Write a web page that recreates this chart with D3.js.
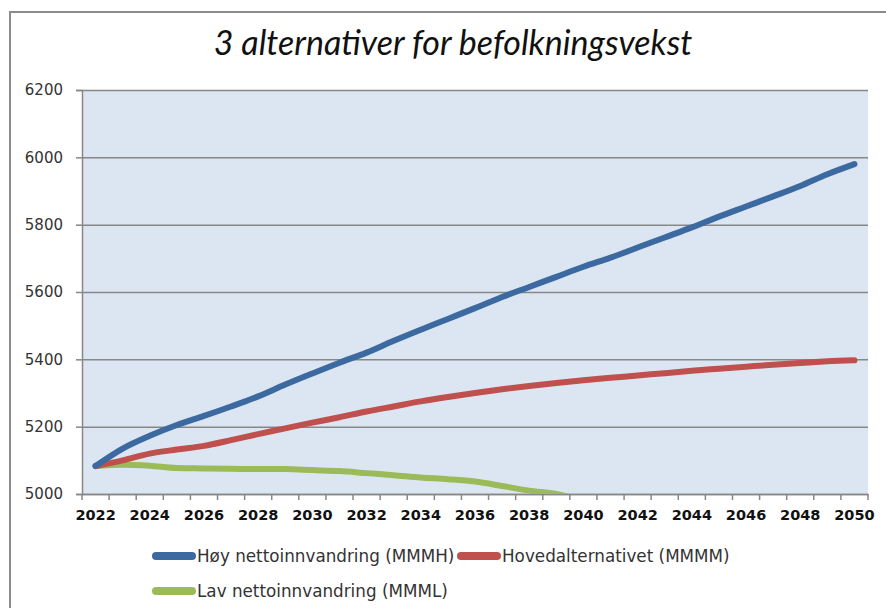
<!DOCTYPE html>
<meta charset="utf-8">
<html>
<head>
<script src="https://d3js.org/d3.v7.min.js"></script>
<style>
  body { margin: 0; background: #fff; }
  .ylab text { font-family: "DejaVu Sans", sans-serif; font-size: 15px; fill: #333; }
  .xlab text { font-family: "DejaVu Sans", sans-serif; font-size: 14.5px; font-weight: bold; fill: #111; }
  .legend text { font-family: "DejaVu Sans", sans-serif; font-size: 16.8px; fill: #333; }
</style>
</head>
<body>
<div id="chart"></div>
<script>
// data (thousands of people)
var years = d3.range(2022, 2051);
var yTicks = [5000, 5200, 5400, 5600, 5800, 6000, 6200];
var xLabels = [2022, 2024, 2026, 2028, 2030, 2032, 2034, 2036, 2038, 2040, 2042, 2044, 2046, 2048, 2050];

var hoy = [5083, 5135, 5173, 5205, 5232, 5260, 5290, 5325, 5358, 5390,
           5420, 5455, 5488, 5520, 5552, 5585, 5615, 5645, 5675, 5702,
           5732, 5762, 5792, 5824, 5854, 5884, 5915, 5950, 5980];
var hoved = [5083, 5100, 5120, 5132, 5143, 5160, 5178, 5195, 5212, 5228,
             5245, 5260, 5275, 5288, 5300, 5311, 5321, 5330, 5338, 5345,
             5352, 5359, 5366, 5372, 5378, 5384, 5389, 5394, 5397];
var lav = [5083, 5087, 5084, 5077, 5076, 5075, 5074, 5074, 5071, 5068,
           5062, 5056, 5049, 5044, 5037, 5024, 5010, 5000, 4980];

var series = [
  {name: "Høy nettoinnvandring (MMMH)", values: hoy, color: "#3c6aa0"},
  {name: "Hovedalternativet (MMMM)", values: hoved, color: "#c0504d"},
  {name: "Lav nettoinnvandring (MMML)", values: lav, color: "#9bbb59"}
];

var W = 886, H = 608;
var plotL = 82, plotR = 868, plotT = 90, plotB = 494;

var svg = d3.select("#chart").append("svg")
  .attr("width", W).attr("height", H);

// chart area frame
svg.append("rect")
  .attr("x", 10).attr("y", 12)
  .attr("width", W + 20).attr("height", H + 20)
  .attr("fill", "#fff")
  .attr("stroke", "#8c8c8c").attr("stroke-width", 2);

// title
svg.append("text")
  .attr("x", 453).attr("y", 55)
  .attr("text-anchor", "middle")
  .style("font-family", "Lato, sans-serif")
  .style("font-style", "italic")
  .style("font-size", "34px")
  .style("fill", "#111")
  .text("3 alternativer for befolkningsvekst");

var x = d3.scaleBand().domain(years).range([plotL, plotR]).padding(0);
var y = d3.scaleLinear().domain([5000, 6200]).range([plotB, plotT]);
var cx = function(yr) { return x(yr) + x.bandwidth() / 2; };

// plot background
svg.append("rect")
  .attr("x", plotL).attr("y", plotT)
  .attr("width", plotR - plotL).attr("height", plotB - plotT)
  .attr("fill", "#dce6f2");

// gridlines
svg.append("g")
  .attr("transform", "translate(" + plotL + ",0)")
  .call(d3.axisLeft(y).tickValues(yTicks).tickSize(-(plotR - plotL)).tickFormat(""))
  .call(function(g) {
    g.select(".domain").remove();
    g.selectAll("line").attr("stroke", "#878787").attr("stroke-width", 1.5);
  });

// y axis
svg.append("g")
  .attr("class", "ylab")
  .attr("transform", "translate(" + plotL + ",0)")
  .call(d3.axisLeft(y).tickValues(yTicks).tickSize(6).tickPadding(13).tickFormat(d3.format("d")))
  .call(function(g) {
    g.select(".domain").attr("stroke", "#878787").attr("stroke-width", 1.5);
    g.selectAll("line").attr("stroke", "#878787").attr("stroke-width", 1.5);
    g.selectAll("text").attr("fill", "#333");
  });

// x axis: labels every second year, tick marks between categories
svg.append("g")
  .attr("class", "xlab")
  .attr("transform", "translate(0," + plotB + ")")
  .call(d3.axisBottom(x).tickValues(xLabels).tickSize(0).tickPadding(16))
  .call(function(g) {
    g.select(".domain").attr("stroke", "#878787").attr("stroke-width", 1.5);
    g.selectAll("text").attr("fill", "#111");
  });

svg.append("g").selectAll("line")
  .data(years.concat([null]))
  .enter().append("line")
  .attr("x1", function(d) { return d === null ? plotR : x(d); })
  .attr("x2", function(d) { return d === null ? plotR : x(d); })
  .attr("y1", plotB).attr("y2", plotB + 6)
  .attr("stroke", "#878787").attr("stroke-width", 1.5);

// clip lines to the plot area
svg.append("clipPath").attr("id", "plotclip")
  .append("rect")
  .attr("x", plotL).attr("y", plotT - 10)
  .attr("width", plotR - plotL).attr("height", plotB - plotT + 10);

var line = d3.line()
  .x(function(d, i) { return cx(years[i]); })
  .y(function(d) { return y(d); })
  .curve(d3.curveMonotoneX);

svg.append("g")
  .attr("clip-path", "url(#plotclip)")
  .selectAll("path")
  .data(series.slice().reverse())
  .enter().append("path")
  .attr("d", function(d) { return line(d.values); })
  .attr("fill", "none")
  .attr("stroke", function(d) { return d.color; })
  .attr("stroke-width", 6)
  .attr("stroke-linecap", "round")
  .attr("stroke-linejoin", "round");

// legend
var legPos = [[152, 556], [457, 556], [152, 591]];
var leg = svg.append("g").attr("class", "legend")
  .selectAll("g")
  .data(series)
  .enter().append("g")
  .attr("transform", function(d, i) { return "translate(" + legPos[i][0] + "," + legPos[i][1] + ")"; });

leg.append("line")
  .attr("x1", 4).attr("x2", 40)
  .attr("y1", 0).attr("y2", 0)
  .attr("stroke", function(d) { return d.color; })
  .attr("stroke-width", 8)
  .attr("stroke-linecap", "round");

leg.append("text")
  .attr("x", 45).attr("y", 0)
  .attr("dy", "0.36em")
  .text(function(d) { return d.name; });
</script>
</body>
</html>
